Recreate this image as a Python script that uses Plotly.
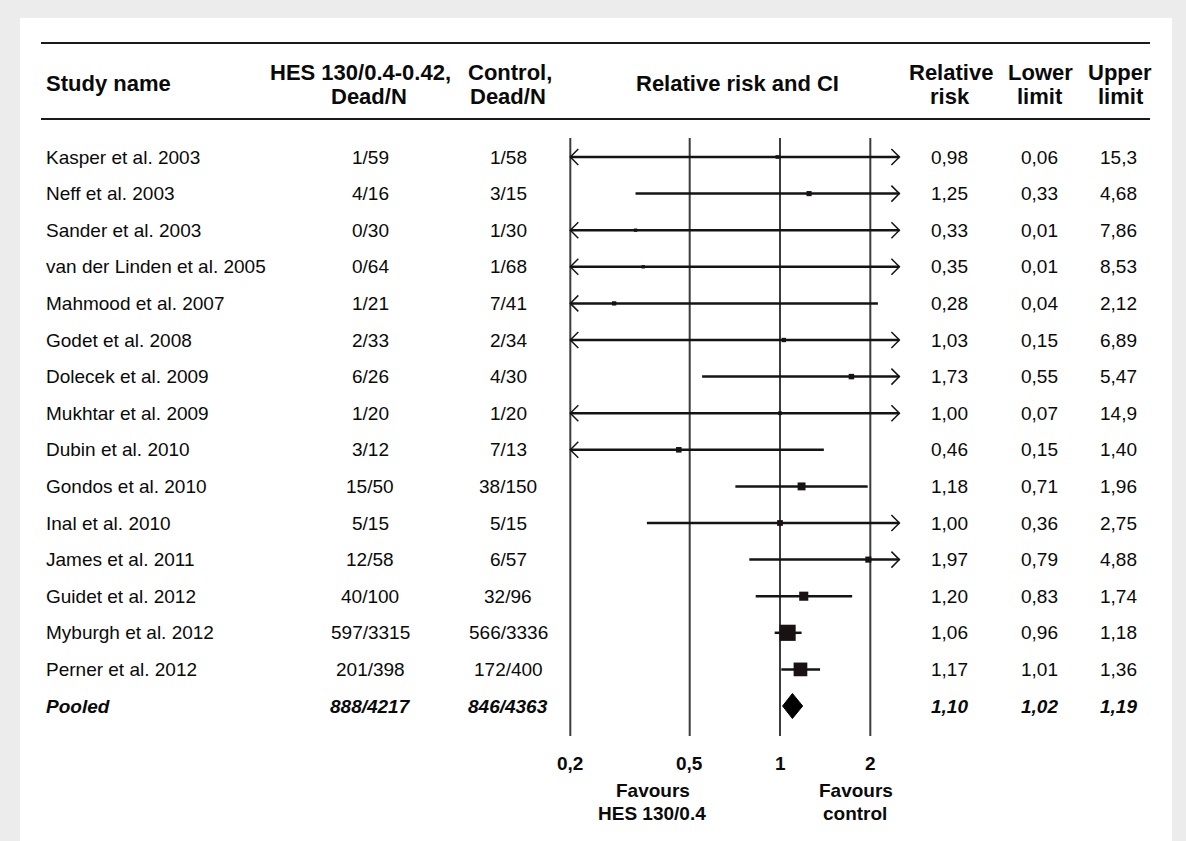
import math
import plotly.graph_objects as go

# ---------------- data ----------------
studies = ["Kasper et al. 2003", "Neff et al. 2003", "Sander et al. 2003",
           "van der Linden et al. 2005", "Mahmood et al. 2007", "Godet et al. 2008",
           "Dolecek et al. 2009", "Mukhtar et al. 2009", "Dubin et al. 2010",
           "Gondos et al. 2010", "Inal et al. 2010", "James et al. 2011",
           "Guidet et al. 2012", "Myburgh et al. 2012", "Perner et al. 2012"]
hes_dead_n = ["1/59", "4/16", "0/30", "0/64", "1/21", "2/33", "6/26", "1/20", "3/12",
              "15/50", "5/15", "12/58", "40/100", "597/3315", "201/398"]
ctrl_dead_n = ["1/58", "3/15", "1/30", "1/68", "7/41", "2/34", "4/30", "1/20", "7/13",
               "38/150", "5/15", "6/57", "32/96", "566/3336", "172/400"]
rel_risk = [0.98, 1.25, 0.33, 0.35, 0.28, 1.03, 1.73, 1.00, 0.46, 1.18, 1.00, 1.97, 1.20, 1.06, 1.17]
lower = [0.06, 0.33, 0.01, 0.01, 0.04, 0.15, 0.55, 0.07, 0.15, 0.71, 0.36, 0.79, 0.83, 0.96, 1.01]
upper = [15.3, 4.68, 7.86, 8.53, 2.12, 6.89, 5.47, 14.9, 1.40, 1.96, 2.75, 4.88, 1.74, 1.18, 1.36]

pooled_label = "Pooled"
pooled_hes = "888/4217"
pooled_ctrl = "846/4363"
pooled_rr, pooled_lo, pooled_hi = 1.10, 1.02, 1.19

axis_ticks = [0.2, 0.5, 1, 2]
axis_tick_text = ["0,2", "0,5", "1", "2"]
axis_min, axis_max = 0.2, 2.5

# ---------------- geometry ----------------
W, H = 1186, 841
PX_PER_DEC = 300.0
ONE_PX = 780.0
ROW0_PX = 157.0
ROW_H = 36.6

FONT = "Liberation Sans, Arial, Helvetica, sans-serif"
INK = "#0a0a0a"
LINE = "#141414"


def pxx(x):
    return x / W


def pxy(y):
    return 1 - y / H


def fmt(v):
    s = f"{v:.1f}" if v >= 10 else f"{v:.2f}"
    return s.replace(".", ",")


x_range = [-ONE_PX / PX_PER_DEC, (W - ONE_PX) / PX_PER_DEC]
y_range = [-(H - ROW0_PX) / ROW_H, ROW0_PX / ROW_H]

n = len(studies)
row_y = [-i for i in range(n)]
pooled_y = -n

fig = go.Figure()

# CI lines (clipped to the axis range)
lx, ly = [], []
for i in range(n):
    lx += [max(lower[i], axis_min), min(upper[i], axis_max), None]
    ly += [row_y[i], row_y[i], None]
fig.add_trace(go.Scatter(x=lx, y=ly, mode="lines", line=dict(color=LINE, width=2.5),
                         hoverinfo="skip", showlegend=False))

# open chevrons where the CI runs off the axis
arm_dec = 8 / PX_PER_DEC
arm_row = 8 / ROW_H
ax_, ay_ = [], []
for i in range(n):
    if lower[i] < axis_min:
        back = axis_min * 10 ** arm_dec
        ax_ += [back, axis_min, back, None]
        ay_ += [row_y[i] + arm_row, row_y[i], row_y[i] - arm_row, None]
    if upper[i] > axis_max:
        back = axis_max * 10 ** (-arm_dec)
        ax_ += [back, axis_max, back, None]
        ay_ += [row_y[i] + arm_row, row_y[i], row_y[i] - arm_row, None]
fig.add_trace(go.Scatter(x=ax_, y=ay_, mode="lines", line=dict(color=LINE, width=1.5),
                         hoverinfo="skip", showlegend=False))

# point estimates, square size from study precision
sizes = []
for i in range(n):
    se = (math.log(upper[i]) - math.log(lower[i])) / (2 * 1.96)
    sizes.append(max(3, 4.3 * (1 / se) ** 0.45))
fig.add_trace(go.Scatter(x=rel_risk, y=row_y, mode="markers",
                         marker=dict(symbol="square", size=sizes, color="#1a1212",
                                     opacity=1, line=dict(width=0)),
                         hoverinfo="skip", showlegend=False))

# pooled diamond
dh = 12.5 / ROW_H
fig.add_trace(go.Scatter(x=[pooled_lo, pooled_rr, pooled_hi, pooled_rr, pooled_lo],
                         y=[pooled_y, pooled_y + dh, pooled_y, pooled_y - dh, pooled_y],
                         mode="lines", fill="toself", fillcolor="#000000",
                         line=dict(color="#000000", width=1),
                         hoverinfo="skip", showlegend=False))

shapes = []
# white panel on grey page
shapes.append(dict(type="rect", xref="paper", yref="paper", x0=pxx(20), x1=pxx(1172),
                   y0=pxy(H), y1=pxy(18), fillcolor="white", line=dict(width=0), layer="below"))
# header rules
for yy in (43, 119):
    shapes.append(dict(type="line", xref="paper", yref="paper", x0=pxx(41), x1=pxx(1150),
                       y0=pxy(yy), y1=pxy(yy), line=dict(color="#1a1a1a", width=2.2)))
# vertical reference lines at the ticks
for t in axis_ticks:
    shapes.append(dict(type="line", xref="x", yref="paper", x0=t, x1=t,
                       y0=pxy(736), y1=pxy(138), line=dict(color="#3c3c3c", width=2),
                       layer="below"))

ann = []


def add_text(text, x, y, anchor="center", size=19, yref="y", xref="paper"):
    ann.append(dict(text=text, x=x, y=y, xref=xref, yref=yref, xanchor=anchor,
                    yanchor="middle", showarrow=False,
                    font=dict(family=FONT, size=size, color=INK)))


# headers
HS = 22
add_text("<b>Study name</b>", pxx(44), pxy(83), "left", HS, "paper")
add_text("<b>HES 130/0.4-0.42,</b>", pxx(360), pxy(72), "center", HS, "paper")
add_text("<b>Dead/N</b>", pxx(369), pxy(97), "center", HS, "paper")
add_text("<b>Control,</b>", pxx(510), pxy(72), "center", HS, "paper")
add_text("<b>Dead/N</b>", pxx(508), pxy(97), "center", HS, "paper")
add_text("<b>Relative risk and CI</b>", pxx(737), pxy(83), "center", HS, "paper")
add_text("<b>Relative</b>", pxx(951), pxy(72), "center", HS, "paper")
add_text("<b>risk</b>", pxx(950), pxy(97), "center", HS, "paper")
add_text("<b>Lower</b>", pxx(1040), pxy(72), "center", HS, "paper")
add_text("<b>limit</b>", pxx(1040), pxy(97), "center", HS, "paper")
add_text("<b>Upper</b>", pxx(1120), pxy(72), "center", HS, "paper")
add_text("<b>limit</b>", pxx(1121), pxy(97), "center", HS, "paper")

# table rows
for i in range(n):
    y = row_y[i]
    add_text(studies[i], pxx(44), y, "left")
    add_text(hes_dead_n[i], pxx(370), y)
    add_text(ctrl_dead_n[i], pxx(508), y)
    add_text(fmt(rel_risk[i]), pxx(949), y)
    add_text(fmt(lower[i]), pxx(1039), y)
    add_text(fmt(upper[i]), pxx(1118), y)

add_text(f"<b><i>{pooled_label}</i></b>", pxx(44), pooled_y, "left")
add_text(f"<b><i>{pooled_hes}</i></b>", pxx(370), pooled_y)
add_text(f"<b><i>{pooled_ctrl}</i></b>", pxx(508), pooled_y)
add_text(f"<b><i>{fmt(pooled_rr)}</i></b>", pxx(949), pooled_y)
add_text(f"<b><i>{fmt(pooled_lo)}</i></b>", pxx(1039), pooled_y)
add_text(f"<b><i>{fmt(pooled_hi)}</i></b>", pxx(1118), pooled_y)

# axis tick labels
for t, lab in zip(axis_ticks, axis_tick_text):
    add_text(f"<b>{lab}</b>", math.log10(t), pxy(763), "center", 19, "paper", "x")

add_text("<b>Favours</b>", pxx(653), pxy(790), "center", 19, "paper")
add_text("<b>HES 130/0.4</b>", pxx(652), pxy(813), "center", 19, "paper")
add_text("<b>Favours</b>", pxx(856), pxy(790), "center", 19, "paper")
add_text("<b>control</b>", pxx(855), pxy(813), "center", 19, "paper")

fig.update_layout(
    width=W, height=H, autosize=False,
    margin=dict(l=0, r=0, t=0, b=0, pad=0),
    paper_bgcolor="#ececec", plot_bgcolor="#ececec",
    shapes=shapes, annotations=ann,
    xaxis=dict(type="log", range=x_range, domain=[0, 1], showgrid=False, zeroline=False,
               showticklabels=False, ticks="", showline=False, fixedrange=True),
    yaxis=dict(range=y_range, domain=[0, 1], showgrid=False, zeroline=False,
               showticklabels=False, ticks="", showline=False, fixedrange=True),
    showlegend=False,
)

fig.write_html("out.html", config={"displayModeBar": False},
               post_script="document.body.style.margin='0';document.body.style.overflow='hidden';")
